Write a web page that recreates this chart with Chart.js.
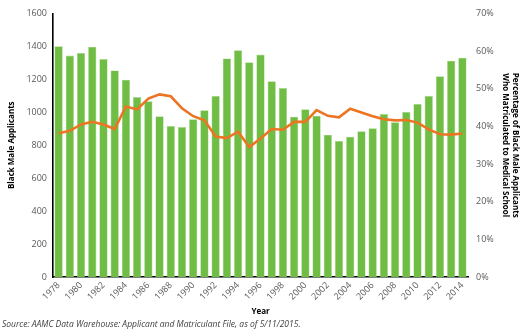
<!DOCTYPE html>
<html>
<head>
<meta charset="utf-8">
<script src="https://cdn.jsdelivr.net/npm/chart.js@4/dist/chart.umd.min.js"></script>
<style>
  body { margin: 0; background: #fff; }
  #wrap { position: relative; width: 520px; height: 332px; }
  #source {
    position: absolute; left: 2px; top: 318px;
    font: italic 8.5px "Open Sans", sans-serif; color: #404040; white-space: nowrap;
  }
</style>
</head>
<body>
<div id="wrap">
  <canvas id="chart" width="520" height="332"></canvas>
  <div id="source">Source: AAMC Data Warehouse: Applicant and Matriculant File, as of 5/11/2015.</div>
</div>
<script>
// years on the x axis
const years = [
  1978, 1979, 1980, 1981, 1982, 1983, 1984, 1985, 1986, 1987,
  1988, 1989, 1990, 1991, 1992, 1993, 1994, 1995, 1996, 1997,
  1998, 1999, 2000, 2001, 2002, 2003, 2004, 2005, 2006, 2007,
  2008, 2009, 2010, 2011, 2012, 2013, 2014,
];

// black male applicants (left axis)
const applicants = [
  1400, 1344, 1360, 1398, 1323, 1254, 1198, 1092, 1067, 975,
  916, 910, 958, 1012, 1100, 1327, 1377, 1303, 1350, 1188,
  1147, 973, 1018, 979, 864, 826, 852, 885, 903, 989,
  940, 1002, 1051, 1100, 1219, 1313, 1331,
];

// % of applicants who matriculated (right axis)
const matriculatedPct = [
  38.2, 38.8, 40.5, 41.2, 40.5, 39.3, 45.3, 44.5, 47.4, 48.5,
  48.0, 44.8, 42.7, 41.6, 37.3, 36.9, 38.6, 34.5, 36.8, 39.3,
  39.1, 41.2, 41.2, 44.3, 42.8, 42.4, 44.7, 43.7, 42.7, 41.9,
  41.6, 41.7, 41.0, 39.2, 37.9, 37.8, 38.1,
];

const tickFont = { family: "Open Sans", size: 9 };
const titleFont = { family: "Open Sans", size: 8, weight: "bold" };

const ctx = document.getElementById("chart").getContext("2d");
new Chart(ctx, {
  data: {
    labels: years,
    datasets: [
      {
        type: "line",
        data: matriculatedPct,
        yAxisID: "y1",
        borderColor: "#ec7423",
        borderWidth: 2.6,
        pointRadius: 0,
        tension: 0,
        order: 0,
      },
      {
        type: "bar",
        data: applicants,
        yAxisID: "y",
        backgroundColor: "#6fbd45",
        borderColor: "#a9d98c",
        borderWidth: 0.6,
        categoryPercentage: 1,
        barPercentage: 0.74,
        order: 1,
      },
    ],
  },
  options: {
    responsive: false,
    animation: false,
    layout: { padding: { top: 4, bottom: 15 } },
    plugins: { legend: { display: false }, tooltip: { enabled: false } },
    scales: {
      x: {
        grid: { display: false, drawTicks: false },
        border: { display: true, color: "#000", width: 1.6 },
        ticks: {
          autoSkip: false,
          minRotation: 45,
          maxRotation: 45,
          padding: 3,
          color: "#595959",
          font: tickFont,
          callback: (v, i) => (i % 2 === 0 ? years[i] : ""),
        },
        title: {
          display: true,
          text: "Year",
          color: "#000",
          font: titleFont,
          padding: { top: 2, bottom: 0 },
        },
        afterFit: (s) => { s.height = 40; },
      },
      y: {
        position: "left",
        min: 0,
        max: 1600,
        grid: { display: false, drawTicks: false },
        border: { display: true, color: "#000", width: 1.6 },
        ticks: {
          stepSize: 200,
          padding: 6,
          color: "#595959",
          font: tickFont,
          callback: (v) => String(v),
        },
        title: {
          display: true,
          text: "Black Male Applicants",
          color: "#000",
          font: titleFont,
          padding: { top: 7, bottom: 0 },
        },
        afterFit: (s) => { s.width = 53; },
      },
      y1: {
        position: "right",
        min: 0,
        max: 70,
        grid: { display: false, drawTicks: false },
        border: { display: false },
        ticks: {
          stepSize: 10,
          padding: 8,
          color: "#595959",
          font: tickFont,
          callback: (v) => v + "%",
        },
        title: {
          display: true,
          text: ["Percentage of Black Male Applicants", "Who Matriculated to Medical School"],
          color: "#000",
          font: titleFont,
          padding: { top: 0, bottom: 1 },
        },
        afterFit: (s) => { s.width = 52; },
      },
    },
  },
});
</script>
</body>
</html>
